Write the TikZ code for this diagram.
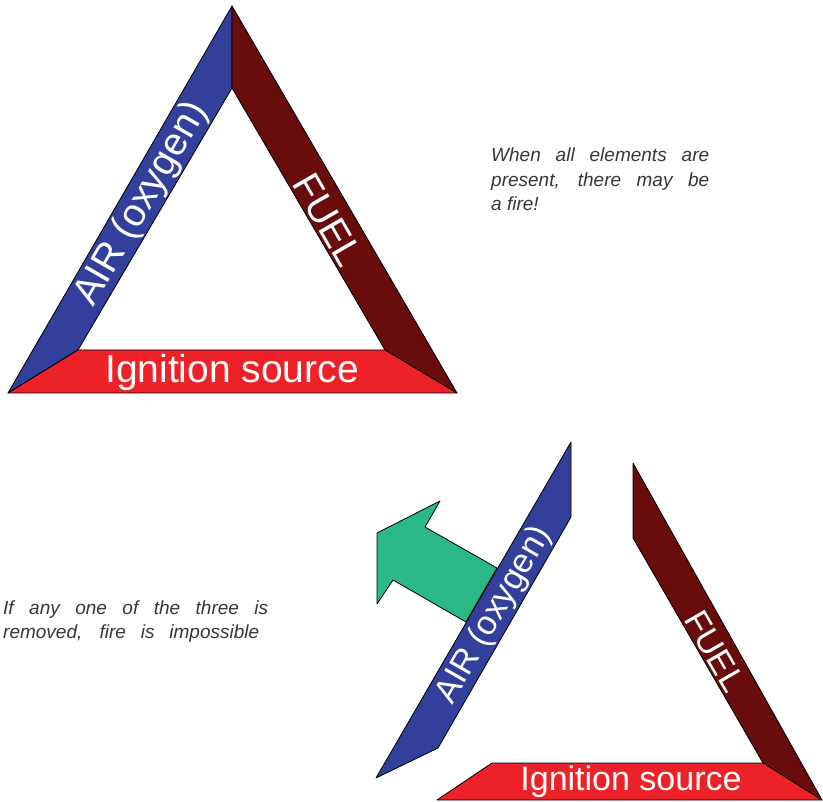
\documentclass[tikz,border=0pt]{standalone}
\usepackage{fontspec}
\setmainfont{Liberation Sans}
\definecolor{airblue}{RGB}{50,64,155}
\definecolor{fuelred}{RGB}{105,12,12}
\definecolor{ignred}{RGB}{236,34,40}
\definecolor{arrowgreen}{RGB}{42,184,134}
\definecolor{captext}{RGB}{55,55,55}
\begin{document}
\begin{tikzpicture}[x=1pt,y=-1pt,
  band/.style={draw=black, line width=0.8pt, line join=round},
  lbl/.style={text=white, inner sep=0pt, font=\fontsize{39}{42}\selectfont},
  lblsmall/.style={text=white, inner sep=0pt, font=\fontsize{34}{38}\selectfont},
  captxt/.style={text=captext, inner sep=0pt, anchor=base west, font=\fontsize{19}{25}\selectfont\itshape}]
\useasboundingbox (0,0) rectangle (823,802);
\fill[white] (0,0) rectangle (823,802);
% top triangle
\filldraw[band, fill=airblue] (8,393) -- (232,6) -- (232,88) -- (78,350) -- cycle;
\filldraw[band, fill=fuelred] (232,6) -- (457,393) -- (385,350) -- (232,88) -- cycle;
\filldraw[band, fill=ignred] (8,393) -- (78,350) -- (385,350) -- (457,393) -- cycle;
\node[lbl, rotate=60] (airtop) at (142,204) {AIR (oxygen)};
\node[lbl, rotate=-60] (fueltop) at (328,220) {FUEL};
\node[lbl] (igntop) at (232,372) {Ignition source};
% bottom triangle
\filldraw[band, fill=arrowgreen] (440,501) -- (425,527) -- (497,568) -- (466,622) -- (393,580) -- (377,604) -- (377,533) -- cycle;
\filldraw[band, fill=airblue] (376,778) -- (571,442) -- (571,517) -- (438,748) -- cycle;
\filldraw[band, fill=fuelred] (633,463) -- (822,800) -- (763,763) -- (633,538) -- cycle;
\filldraw[band, fill=ignred] (437,800) -- (492,763) -- (763,763) -- (822,800) -- cycle;
\node[lblsmall, rotate=60] (airbot) at (494,615) {AIR (oxygen)};
\node[lblsmall, rotate=-60] (fuelbot) at (715,651) {FUEL};
\node[lblsmall] (ignbot) at (631,782) {Ignition source};
% captions
\node[captxt] (c1) at (491,162) {\makebox[218pt][s]{When all elements are}};
\node[captxt] (c2) at (491,186.5) {\makebox[218pt][s]{present, there may be}};
\node[captxt] (c3) at (491,211) {a fire!};
\node[captxt] (d1) at (3,614) {\makebox[265pt][s]{If any one of the three is}};
\node[captxt] (d2) at (3,638) {\makebox[256pt][s]{removed, fire is impossible}};
\end{tikzpicture}
\end{document}
